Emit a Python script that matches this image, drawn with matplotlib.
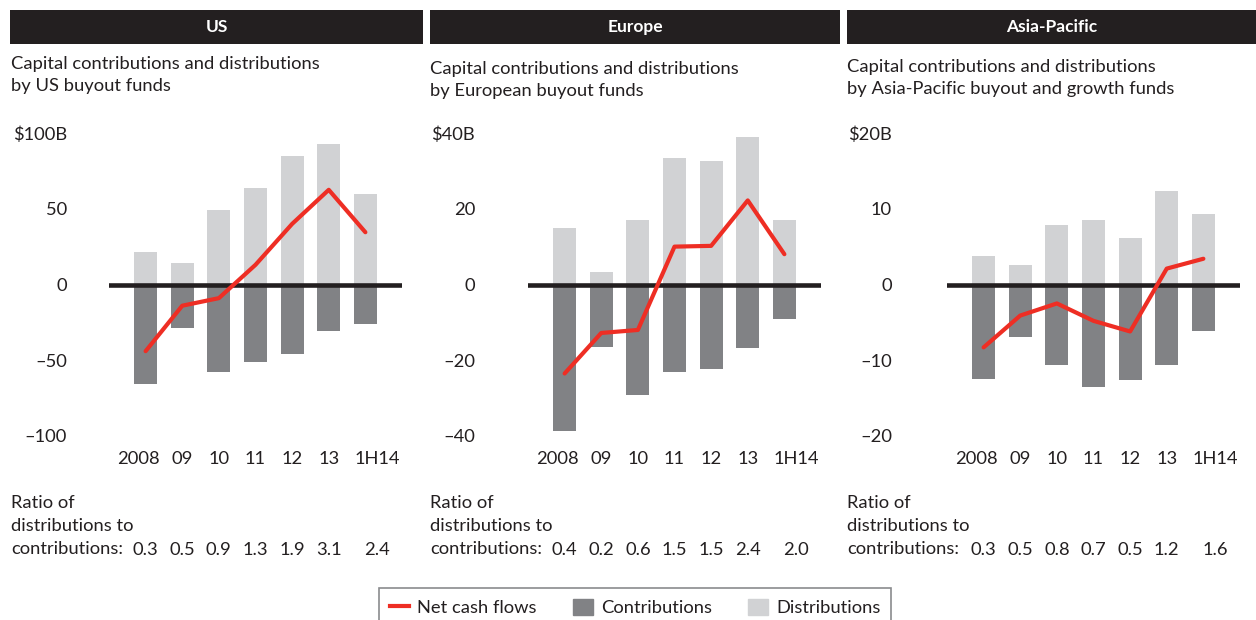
import matplotlib
matplotlib.use("Agg")
import matplotlib.pyplot as plt
import matplotlib.patches as mpatches
from matplotlib.lines import Line2D

plt.rcParams['font.family'] = ['Lato', 'DejaVu Sans']

W, H = 1256, 620
DARK = "#818285"
LIGHT = "#d1d2d4"
RED = "#ee2e24"
INK = "#231f20"

years = ["2008", "09", "10", "11", "12", "13", "1H14"]

us_dist = [21.5, 14, 49, 64, 85, 93, 60]
us_contrib = [-66, -29, -58, -51, -46, -31, -26]
us_net = [-44, -14, -9, 13, 40, 62.5, 34.5]
us_ratio = ["0.3", "0.5", "0.9", "1.3", "1.9", "3.1", "2.4"]

eu_dist = [15, 3.3, 17, 33.4, 32.5, 39, 17]
eu_contrib = [-38.8, -16.4, -29.2, -23.2, -22.2, -16.8, -9.2]
eu_net = [-23.5, -12.8, -12, 10, 10.2, 22.2, 8]
eu_ratio = ["0.4", "0.2", "0.6", "1.5", "1.5", "2.4", "2.0"]

ap_dist = [3.8, 2.6, 7.8, 8.5, 6.1, 12.4, 9.3]
ap_contrib = [-12.5, -6.9, -10.6, -13.5, -12.6, -10.6, -6.2]
ap_net = [-8.3, -4.1, -2.5, -4.8, -6.2, 2.1, 3.4]
ap_ratio = ["0.3", "0.5", "0.8", "0.7", "0.5", "1.2", "1.6"]

us_ticks = [100, 50, 0, -50, -100]
us_ticklabels = ["$100B", "50", "0", "\u201350", "\u2013100"]
eu_ticks = [40, 20, 0, -20, -40]
eu_ticklabels = ["$40B", "20", "0", "\u201320", "\u201340"]
ap_ticks = [20, 10, 0, -10, -20]
ap_ticklabels = ["$20B", "10", "0", "\u201310", "\u201320"]

# wide first/last labels sit a little outward from their bars
label_shift = [-0.2, 0, 0, 0, 0, 0, 0.33]
ratio_shift = [0, 0, 0, 0, 0, 0, 0.33]

panels = [
    dict(title="US", sub="Capital contributions and distributions\nby US buyout funds",
         dist=us_dist, contrib=us_contrib, net=us_net, ratio=us_ratio,
         ticks=us_ticks, labels=us_ticklabels,
         hx0=10, hx1=423, tx=11, sub_y=75, ax_left=109, ypad=42),
    dict(title="Europe", sub="Capital contributions and distributions\nby European buyout funds",
         dist=eu_dist, contrib=eu_contrib, net=eu_net, ratio=eu_ratio,
         ticks=eu_ticks, labels=eu_ticklabels,
         hx0=430, hx1=840, tx=430, sub_y=80, ax_left=528, ypad=53),
    dict(title="Asia-Pacific", sub="Capital contributions and distributions\nby Asia-Pacific buyout and growth funds",
         dist=ap_dist, contrib=ap_contrib, net=ap_net, ratio=ap_ratio,
         ticks=ap_ticks, labels=ap_ticklabels,
         hx0=847, hx1=1256, tx=847, sub_y=78, ax_left=947, ypad=55),
]

fig = plt.figure(figsize=(W / 100, H / 100), dpi=100)

def fx(x): return x / W
def fy(y): return 1 - y / H

AX_W = 293
AX_TOP, AX_BOT = 133, 436
FS = 13.2
LS = 1.5

for p in panels:
    # black header band
    fig.patches.append(mpatches.Rectangle((fx(p["hx0"]), fy(44)), fx(p["hx1"] - p["hx0"]), 34 / H,
                                          transform=fig.transFigure, facecolor=INK,
                                          edgecolor="none"))
    fig.text(fx((p["hx0"] + p["hx1"]) / 2), fy(27), p["title"], color="white",
             fontsize=12.5, fontweight="bold", ha="center", va="center")
    fig.text(fx(p["tx"]), fy(p["sub_y"]), p["sub"], color=INK, fontsize=FS,
             ha="left", va="center", linespacing=LS)

    ax = fig.add_axes([fx(p["ax_left"]), fy(AX_BOT), AX_W / W, (AX_BOT - AX_TOP) / H])
    x = list(range(len(years)))
    lab_x = [i + s for i, s in zip(x, label_shift)]
    ax.bar(x, p["dist"], width=0.63, color=LIGHT, zorder=1)
    ax.bar(x, p["contrib"], width=0.63, color=DARK, zorder=1)
    ax.axhline(0, color=INK, lw=3.3, zorder=2)
    ax.plot(x, p["net"], color=RED, lw=3, zorder=3, solid_capstyle="round")
    ax.set_xlim(-1, 7)
    ax.set_ylim(p["ticks"][-1], p["ticks"][0])
    ax.set_yticks(p["ticks"], p["labels"])
    ax.set_xticks(lab_x, years)
    ax.tick_params(length=0, labelsize=FS, colors=INK)
    ax.tick_params(axis="y", pad=p["ypad"] * 0.72)
    ax.tick_params(axis="x", pad=11)
    for s in ax.spines.values():
        s.set_visible(False)
    ax.patch.set_alpha(0)

    # ratio row
    fig.text(fx(p["tx"]), fy(526), "Ratio of\ndistributions to\ncontributions:", color=INK,
             fontsize=FS, ha="left", va="center", linespacing=LS)
    for i, r in enumerate(p["ratio"]):
        xp = p["ax_left"] + (i + ratio_shift[i] + 1) * AX_W / 8
        fig.text(fx(xp), fy(550), r, color=INK, fontsize=FS, ha="center", va="center")

handles = [Line2D([], [], color=RED, lw=3),
           mpatches.Patch(color=DARK),
           mpatches.Patch(color=LIGHT)]
leg = fig.legend(handles, ["Net cash flows", "Contributions", "Distributions"],
                 loc="upper center", bbox_to_anchor=(fx(635), fy(588)), ncol=3,
                 fontsize=FS, frameon=True, fancybox=False, edgecolor="#6d6e71",
                 handlelength=1.05, handleheight=1.0, columnspacing=2.0,
                 borderpad=0.6, handletextpad=0.45, borderaxespad=0)
leg.get_frame().set_linewidth(1.2)
for t in leg.get_texts():
    t.set_color(INK)

fig.savefig("out.png", dpi=100)
